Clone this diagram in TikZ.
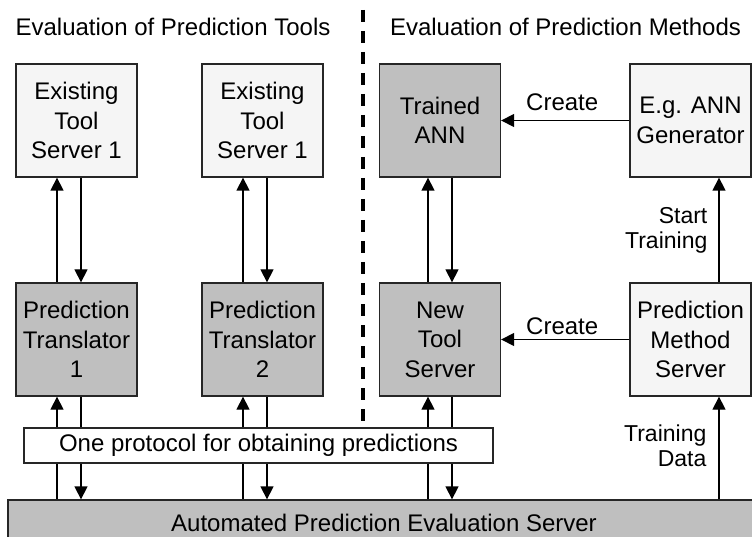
\documentclass[tikz,border=0pt]{standalone}
\usepackage{fontspec}
\setmainfont{Liberation Sans}
\usetikzlibrary{arrows.meta,backgrounds}
\begin{document}
\begin{tikzpicture}[x=1pt,y=-1pt,
  box/.style={draw=black!85, line width=1.3pt, minimum width=121pt, minimum height=113pt, inner sep=0pt, align=center, font=\fontsize{24}{29.5}\selectfont},
  lightbox/.style={box, fill=black!4},
  darkbox/.style={box, fill=black!25},
  lbl/.style={font=\fontsize{23}{25}\selectfont, inner sep=0pt, align=right},
  title/.style={font=\fontsize{24}{29}\selectfont, inner sep=0pt},
  arr/.style={-{Triangle[width=13pt,length=13pt]}, line width=1.3pt},
  divider/.style={line width=3.2pt, dash pattern=on 12pt off 9pt}]
\useasboundingbox (0,0) rectangle (752,537);

% titles
\node[title] (t-tools) at (173,27) {Evaluation of Prediction Tools};
\node[title] (t-methods) at (565.5,27) {Evaluation of Prediction Methods};

% divider
\coordinate (dtop) at (363,10);
\coordinate (dbot) at (363,424);
\draw[divider] (dtop) -- (dbot);

% top row
\node[lightbox] (e1) at (76.5,120.5) {Existing\\Tool\\Server 1};
\node[lightbox] (e2) at (262.5,120.5) {Existing\\Tool\\Server 1};
\node[darkbox] (ann) at (440,120.5) {Trained\\ANN};
\node[lightbox] (gen) at (690.5,120.5) {E.g. ANN\\Generator};

% middle row
\node[darkbox] (t1) at (76.5,339.5) {Prediction\\Translator\\1};
\node[darkbox] (t2) at (262.5,339.5) {Prediction\\Translator\\2};
\node[darkbox] (nts) at (440,339.5) {New\\Tool\\Server};
\node[lightbox] (pms) at (690.5,339.5) {Prediction\\Method\\Server};

% bottom server
\node[draw=black!85, line width=1.3pt, fill=black!25, minimum width=752pt, minimum height=45pt, inner sep=0pt, font=\fontsize{24}{29}\selectfont] (srv) at (384,522.5) {Automated Prediction Evaluation Server};

% protocol
\node[draw=black!85, line width=1.3pt, fill=white, minimum width=469pt, minimum height=35pt, inner sep=0pt, font=\fontsize{24}{29}\selectfont] (proto) at (258.5,445.5) {One protocol for obtaining predictions};

% helper coordinates on the server top
\coordinate (s1u) at ([xshift=-19.5pt]t1.south |- srv.north);
\coordinate (s1d) at ([xshift=4.5pt]t1.south |- srv.north);
\coordinate (s2u) at ([xshift=-19.5pt]t2.south |- srv.north);
\coordinate (s2d) at ([xshift=4.5pt]t2.south |- srv.north);
\coordinate (s3u) at ([xshift=-12pt]nts.south |- srv.north);
\coordinate (s3d) at ([xshift=12pt]nts.south |- srv.north);
\coordinate (s4u) at ([xshift=28.5pt]pms.south |- srv.north);

\begin{scope}[on background layer]
  % top <-> middle
  \draw[arr] ([xshift=-19.5pt]t1.north) -- ([xshift=-19.5pt]e1.south);
  \draw[arr] ([xshift=4.5pt]e1.south) -- ([xshift=4.5pt]t1.north);
  \draw[arr] ([xshift=-19.5pt]t2.north) -- ([xshift=-19.5pt]e2.south);
  \draw[arr] ([xshift=4.5pt]e2.south) -- ([xshift=4.5pt]t2.north);
  \draw[arr] ([xshift=-12pt]nts.north) -- ([xshift=-12pt]ann.south);
  \draw[arr] ([xshift=12pt]ann.south) -- ([xshift=12pt]nts.north);
  % middle <-> server (behind protocol box)
  \draw[arr] (s1u) -- ([xshift=-19.5pt]t1.south);
  \draw[arr] ([xshift=4.5pt]t1.south) -- (s1d);
  \draw[arr] (s2u) -- ([xshift=-19.5pt]t2.south);
  \draw[arr] ([xshift=4.5pt]t2.south) -- (s2d);
  \draw[arr] (s3u) -- ([xshift=-12pt]nts.south);
  \draw[arr] ([xshift=12pt]nts.south) -- (s3d);
\end{scope}

% right column
\draw[arr] (s4u) -- ([xshift=28.5pt]pms.south)
  node[lbl, pos=0.52, left=12pt] {Training\\Data};
\draw[arr] ([xshift=28.5pt]pms.north) -- ([xshift=28.5pt]gen.south)
  node[lbl, pos=0.5, left=11pt] {Start\\Training};

% create arrows
\draw[arr] (gen.west) -- (ann.east)
  node[lbl, midway, above=9pt, xshift=-3pt, font=\fontsize{24}{29}\selectfont] {Create};
\draw[arr] (pms.west) -- (nts.east)
  node[lbl, midway, above=4pt, xshift=-3pt, font=\fontsize{24}{29}\selectfont] {Create};
\end{tikzpicture}
\end{document}
